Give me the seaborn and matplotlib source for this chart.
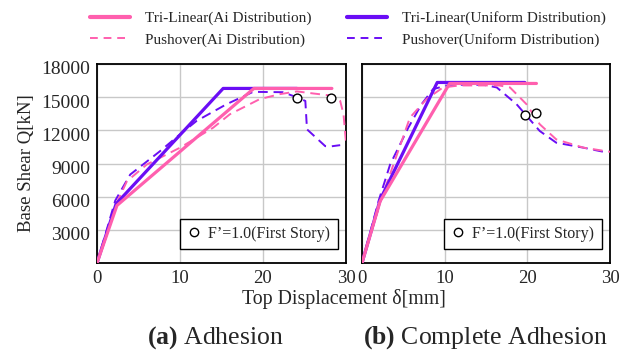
import numpy as np
import pandas as pd
import matplotlib.pyplot as plt
import matplotlib.transforms as mtransforms
import seaborn as sns
from matplotlib.lines import Line2D

# --- data ---
# (a) Adhesion
a_tri_ai_x = [0, 2.4, 18.9, 28.3]
a_tri_ai_y = [0, 5200, 15790, 15790]
a_tri_un_x = [0, 2.3, 15.2, 24.1]
a_tri_un_y = [0, 5350, 15790, 15790]
a_push_ai_x = [0, 2.3, 3.6, 6.0, 10.0, 14.0, 16.0, 19.6, 22.0, 24.1, 26.1, 28.5, 29.3, 29.7, 30.0]
a_push_ai_y = [0, 5300, 7390, 8910, 10430, 12240, 13450, 14820, 15270, 15520, 15330, 15120, 14660, 13450, 10880]
a_push_un_x = [0, 2.2, 4.0, 7.6, 10.0, 12.0, 15.6, 18.8, 22.4, 23.6, 25.1, 25.3, 27.5, 28.1, 29.3]
a_push_un_y = [0, 5650, 8000, 10120, 11640, 12850, 14360, 15480, 15450, 15120, 14660, 12090, 10570, 10540, 10660]
a_fs_x = [24.1, 28.2]
a_fs_y = [14880, 14880]

# (b) Complete Adhesion
b_tri_ai_x = [0, 2.2, 10.6, 21.1]
b_tri_ai_y = [0, 5600, 16240, 16240]
b_tri_un_x = [0, 2.2, 9.1, 19.7]
b_tri_un_y = [0, 5730, 16330, 16330]
b_push_ai_x = [0, 2.2, 5.8, 7.8, 9.8, 11.8, 16.6, 17.9, 19.9, 21.5, 23.5, 26.8, 30.0]
b_push_ai_y = [0, 5500, 13150, 14820, 15880, 16060, 16060, 15880, 14360, 12550, 11180, 10430, 10060]
b_push_un_x = [0, 2.0, 3.4, 5.6, 7.2, 8.6, 10.6, 14.7, 16.3, 18.7, 21.5, 23.5, 26.8, 29.2]
b_push_un_y = [0, 5600, 8910, 12240, 14360, 15730, 16120, 16120, 15880, 14360, 11940, 10880, 10430, 10060]
b_fs_x = [19.7, 21.0]
b_fs_y = [13390, 13610]

pink = "#ff5fae"
purple = "#6a0df5"

sns.set_style("white")
plt.rcParams['font.family'] = ['Liberation Serif', 'DejaVu Serif']
plt.rcParams['mathtext.fontset'] = 'custom'
plt.rcParams['mathtext.rm'] = 'Liberation Serif'
plt.rcParams['mathtext.bf'] = 'Liberation Serif:bold'

fig = plt.figure(figsize=(6.32, 3.54), dpi=100)
ax1 = fig.add_axes([97/632, 91/354, 249/632, 199/354])
ax2 = fig.add_axes([362/632, 91/354, 248/632, 199/354])

panels = [
    (ax1, a_tri_ai_x, a_tri_ai_y, a_tri_un_x, a_tri_un_y, a_push_ai_x, a_push_ai_y, a_push_un_x, a_push_un_y, a_fs_x, a_fs_y),
    (ax2, b_tri_ai_x, b_tri_ai_y, b_tri_un_x, b_tri_un_y, b_push_ai_x, b_push_ai_y, b_push_un_x, b_push_un_y, b_fs_x, b_fs_y),
]

for ax, tax, tay, tux, tuy, pax, pay, pux, puy, fx, fy in panels:
    sns.lineplot(x=pux, y=puy, ax=ax, color=purple, lw=1.4, ls=(0, (5, 3)), sort=False, zorder=3)
    sns.lineplot(x=pax, y=pay, ax=ax, color=pink, lw=1.4, ls=(0, (5, 3)), sort=False, zorder=3)
    sns.lineplot(x=tux, y=tuy, ax=ax, color=purple, lw=2.3, sort=False, zorder=4)
    sns.lineplot(x=tax, y=tay, ax=ax, color=pink, lw=2.3, sort=False, zorder=4)
    sns.scatterplot(x=fx, y=fy, ax=ax, marker='o', s=40, facecolor='white', edgecolor='black', linewidth=1.0, zorder=5)
    ax.set_xlim(0, 30)
    ax.set_ylim(0, 18000)
    ax.set_xticks([0, 10, 20, 30])
    ax.set_yticks([3000, 6000, 9000, 12000, 15000, 18000])
    ax.grid(True, color='#c8c8c8', lw=1.0)
    ax.tick_params(length=0, labelsize=14)
    ax.tick_params(axis='x', labelsize=13.5, pad=5)
    ax.tick_params(axis='y', pad=5)
    for s in ax.spines.values():
        s.set_color('black')
        s.set_linewidth(1.3)
    h = Line2D([], [], ls='none', marker='o', markersize=6, markerfacecolor='white',
               markeredgecolor='black', markeredgewidth=1.0)
    lg = ax.legend([h], ["F\u2019=1.0(First Story)"], loc='lower right', fontsize=11.5,
                   frameon=True, fancybox=False, edgecolor='black', framealpha=1,
                   handlelength=0.8, handletextpad=0.5, borderpad=0.45, borderaxespad=0,
                   bbox_to_anchor=(0.966, 0.07))
    lg.get_frame().set_linewidth(1.0)

# y tick labels sit a little below their gridlines in the reference
shift = mtransforms.ScaledTranslation(0, -4/100, fig.dpi_scale_trans)
for lab in ax1.get_yticklabels():
    lab.set_transform(lab.get_transform() + shift)

ax2.set_yticklabels([])
ax2.tick_params(axis='y', length=0)

fig.text(27/632, 1 - 163/354, "Base Shear Q[kN]", rotation=90, ha='center', va='center', fontsize=13.5)
fig.text(344/632, 1 - 299/354, "Top Displacement \u03b4[mm]", ha='center', va='center', fontsize=14.3)
fig.text(215/632, 1 - 338/354, r"$\mathbf{(a)}$ Adhesion", ha='center', va='center', fontsize=18.5)
fig.text(485/632, 1 - 338/354, r"$\mathbf{(b)}$ Complete Adhesion", ha='center', va='center', fontsize=18.5)

handles = [
    Line2D([], [], color=pink, lw=3),
    Line2D([], [], color=pink, lw=1.4, ls=(0, (4, 3))),
    Line2D([], [], color=purple, lw=3),
    Line2D([], [], color=purple, lw=1.4, ls=(0, (4, 3))),
]
labels = ["Tri-Linear(Ai Distribution)", "Pushover(Ai Distribution)",
          "Tri-Linear(Uniform Distribution)", "Pushover(Uniform Distribution)"]
fig.legend(handles, labels, ncol=2, loc='center', bbox_to_anchor=(348/632, 1 - 29/354),
           frameon=False, fontsize=11, handlelength=2.6, handletextpad=1.0,
           columnspacing=2.3, labelspacing=0.5)

fig.savefig("out.png", dpi=100)
